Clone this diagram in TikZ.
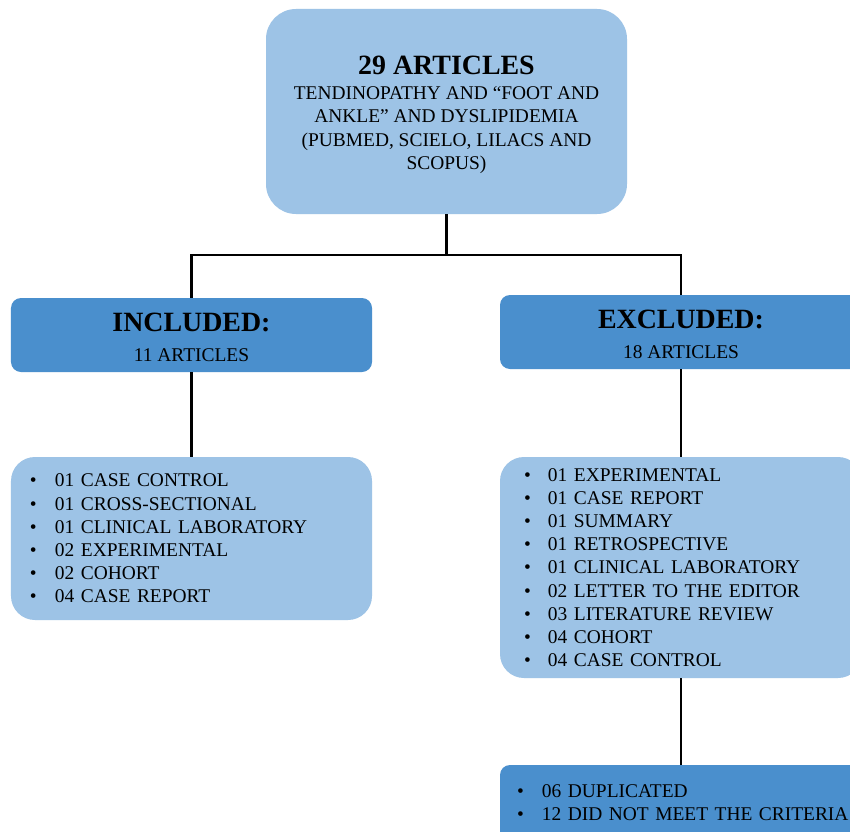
\documentclass[tikz,border=0pt]{standalone}
\usepackage{fontspec}
\setmainfont{Liberation Serif}
\definecolor{lightbox}{HTML}{9DC3E6}
\definecolor{darkbox}{HTML}{4A8FCD}
\newcommand{\itm}[3]{\hspace*{#1}\makebox[#2][l]{\textbullet}#3}
\begin{document}
\begin{tikzpicture}[x=1bp,y=-1bp,
  txt/.style={font=\fontsize{19.5}{23.3}\selectfont},
  lbox/.style={fill=lightbox, rounded corners=24bp, inner sep=0pt, txt},
  dbox/.style={fill=darkbox, rounded corners=10bp, inner sep=0pt, txt},
  label/.style={inner sep=0pt, align=center, txt},
  conn/.style={line width=2.5bp, draw=black}]
\useasboundingbox (0,0) rectangle (850,832);
\clip (0,0) rectangle (850,832);
\fill[white] (0,0) rectangle (850,832);
% top box
\node[lbox, rounded corners=30bp, minimum width=361bp, minimum height=205bp] (top) at (446.5,111.5) {};
\node[label] (toptxt) at (446.5,115)
 {{\fontsize{28}{28}\selectfont\bfseries 29 ARTICLES}\\[1.5bp]
  TENDINOPATHY AND “FOOT AND\\ ANKLE” AND DYSLIPIDEMIA\\ (PUBMED, SCIELO, LILACS AND\\ SCOPUS)};
% headers
\node[dbox, minimum width=361bp, minimum height=74bp] (inc) at (191.5,335) {};
\node[label] (inctxt) at (191.5,337.5)
 {{\fontsize{28}{28}\selectfont\bfseries INCLUDED:}\\[7bp] 11 ARTICLES};
\node[dbox, minimum width=362bp, minimum height=74bp] (exc) at (681,332) {};
\node[label] (exctxt) at (681,334.5)
 {{\fontsize{28}{28}\selectfont\bfseries EXCLUDED:}\\[7bp] 18 ARTICLES};
% lists
\node[lbox, minimum width=361bp, minimum height=163bp, text width=361bp, align=left] (inclist) at (191.5,538.5)
 {\itm{19bp}{25bp}{01 CASE CONTROL}\\
  \itm{19bp}{25bp}{01 CROSS-SECTIONAL}\\
  \itm{19bp}{25bp}{01 CLINICAL LABORATORY}\\
  \itm{19bp}{25bp}{02 EXPERIMENTAL}\\
  \itm{19bp}{25bp}{02 COHORT}\\
  \itm{19bp}{25bp}{04 CASE REPORT}};
\node[lbox, minimum width=362bp, minimum height=221bp, text width=362bp, align=left] (exclist) at (681,567.5)
 {\itm{24bp}{24bp}{01 EXPERIMENTAL}\\
  \itm{24bp}{24bp}{01 CASE REPORT}\\
  \itm{24bp}{24bp}{01 SUMMARY}\\
  \itm{24bp}{24bp}{01 RETROSPECTIVE}\\
  \itm{24bp}{24bp}{01 CLINICAL LABORATORY}\\
  \itm{24bp}{24bp}{02 LETTER TO THE EDITOR}\\
  \itm{24bp}{24bp}{03 LITERATURE REVIEW}\\
  \itm{24bp}{24bp}{04 COHORT}\\
  \itm{24bp}{24bp}{04 CASE CONTROL}};
\node[dbox, minimum width=362bp, minimum height=76bp, text width=362bp, align=left] (excbot) at (681,803)
 {\itm{17bp}{25bp}{06 DUPLICATED}\\
  \itm{17bp}{25bp}{12 DID NOT MEET THE CRITERIA}};
% connectors
\draw[conn] (top.south) -- ++(0,41) coordinate (j);
\draw[conn] (inc.north) |- (j) -| (exc.north);
\draw[conn] (inc.south) -- (inclist.north);
\draw[conn] (exc.south) -- (exclist.north);
\draw[conn] (exclist.south) -- (excbot.north);
\end{tikzpicture}
\end{document}
